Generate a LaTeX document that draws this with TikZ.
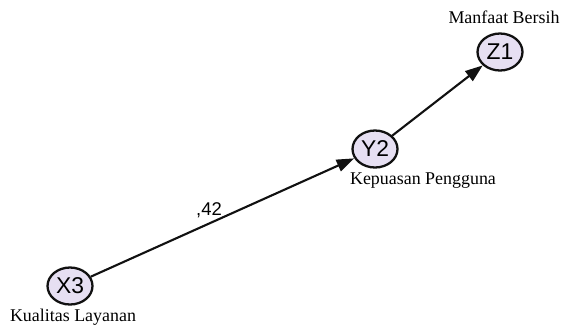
\documentclass[tikz,border=0pt]{standalone}
\usepackage{fontspec}
\setmainfont{Liberation Serif}
\setsansfont{Liberation Sans}
\usetikzlibrary{shapes.geometric,arrows.meta,positioning}
\definecolor{latentfill}{HTML}{E6DFF2}
\definecolor{ink}{HTML}{111111}

\begin{document}
\begin{tikzpicture}[x=0.02cm, y=-0.02cm]
  % --- one unit is one pixel of the original, y running down -------------
  \tikzset{
    latent/.style={ellipse, draw=ink, line width=1.3pt, fill=latentfill,
      minimum width=0.9cm, minimum height=0.74cm, inner sep=0pt,
      font=\sffamily\fontsize{13}{13}\selectfont},
    path/.style={draw=ink, line width=1.2pt,
      -{Triangle[length=10pt, width=7pt]}},
    varname/.style={font=\fontsize{10.2}{12}\selectfont, inner sep=1pt},
    coef/.style={font=\sffamily\fontsize{10.5}{12}\selectfont, inner sep=1pt}}

  \useasboundingbox (0,0) rectangle (563,329);

  % ---- the three latent variables ----------------------------------------
  \node[latent] (X3) at (70,286) {X3};
  \node[latent] (Y2) at (375,149) {Y2};
  \node[latent] (Z1) at (500,52) {Z1};

  % ---- their names ---------------------------------------------------------
  \node[varname] (X3name) at (73,317) {Kualitas Layanan};
  \node[varname] (Y2name) at (423,181) {Kepuasan Pengguna};
  \node[varname] (Z1name) at (504,17) {Manfaat Bersih};

  % ---- the paths -------------------------------------------------------------
  \draw[path] (X3) -- (Y2);
  \draw[path] (Y2) -- (Z1);

  \node[coef] (c1) at (209,210) {,42};
\end{tikzpicture}
\end{document}
